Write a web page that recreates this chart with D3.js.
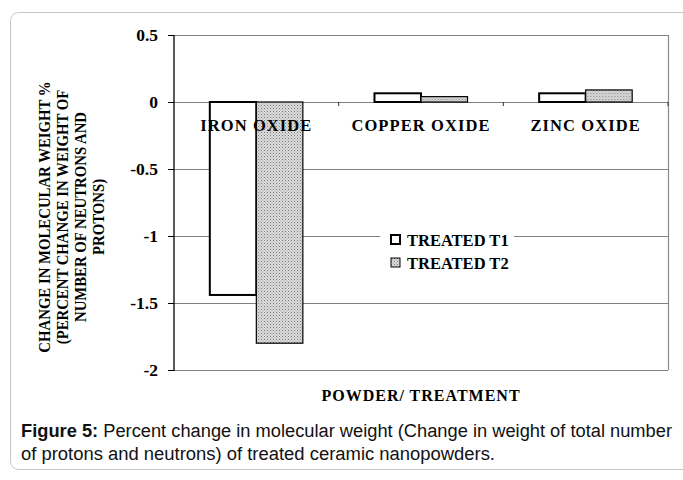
<!DOCTYPE html>
<html>
<head>
  <meta charset="utf-8">
  <script src="https://d3js.org/d3.v7.min.js"></script>
  <style>
    body { margin: 0; background: #fff; }
    .serif { font-family: "Liberation Serif", "Times New Roman", serif; font-weight: bold; fill: #000; }
    .axis path { display: none; }
    .axis line { stroke: #000; }
  </style>
</head>
<body>
<script>
  // data
  var categories = ["IRON OXIDE", "COPPER OXIDE", "ZINC OXIDE"];
  var seriesNames = ["TREATED T1", "TREATED T2"];
  var t1Values = [-1.44, 0.065, 0.065];
  var t2Values = [-1.80, 0.04, 0.09];
  var yTicks = [0.5, 0, -0.5, -1, -1.5, -2];
  var yTitleLines = ["CHANGE IN MOLECULAR WEIGHT %", "(PERCENT CHANGE IN WEIGHT OF",
                     "NUMBER OF NEUTRONS AND", "PROTONS)"];

  var W = 683, H = 480;
  var plot = {left: 174, right: 668, top: 35, bottom: 370};

  var svg = d3.select("body").append("svg")
    .attr("width", W).attr("height", H);

  // stipple pattern for T2
  var defs = svg.append("defs");
  var pat = defs.append("pattern")
    .attr("id", "dots").attr("patternUnits", "userSpaceOnUse")
    .attr("width", 3).attr("height", 3);
  pat.append("rect").attr("width", 3).attr("height", 3).attr("fill", "#dcdcdc");
  pat.append("rect").attr("width", 1).attr("height", 1).attr("fill", "#7a7a7a");
  pat.append("rect").attr("x", 1.5).attr("y", 1.5).attr("width", 1).attr("height", 1).attr("fill", "#9a9a9a");

  // outer frame
  svg.append("rect")
    .attr("x", 10.5).attr("y", 12.5).attr("width", 700).attr("height", 457)
    .attr("rx", 8).attr("fill", "none").attr("stroke", "#c6c6c6");

  var y = d3.scaleLinear().domain([-2, 0.5]).range([plot.bottom, plot.top]);
  var x0 = d3.scaleBand().domain(categories).range([plot.left, plot.right]);
  var x1 = d3.scaleBand().domain(seriesNames).range([0, x0.bandwidth()])
    .paddingOuter(0.77);

  // gridlines
  svg.append("g").selectAll("line")
    .data(yTicks)
    .join("line")
    .attr("x1", plot.left).attr("x2", plot.right)
    .attr("y1", function(d) { return Math.round(y(d)) + 0.5; })
    .attr("y2", function(d) { return Math.round(y(d)) + 0.5; })
    .attr("stroke", "#808080").attr("stroke-width", 1.2);

  // right border
  svg.append("line")
    .attr("x1", plot.right + 0.5).attr("x2", plot.right + 0.5)
    .attr("y1", plot.top).attr("y2", plot.bottom)
    .attr("stroke", "#8a8a8a").attr("stroke-width", 1.2);

  // category ticks on the zero line
  svg.append("g").selectAll("line")
    .data(categories.slice(1).concat(["end"]))
    .join("line")
    .attr("x1", function(d, i) { return plot.left + x0.step() * (i + 1); })
    .attr("x2", function(d, i) { return plot.left + x0.step() * (i + 1); })
    .attr("y1", y(0)).attr("y2", y(0) + 4)
    .attr("stroke", "#333");

  // bars
  var rows = categories.map(function(c, i) {
    return {cat: c, vals: [t1Values[i], t2Values[i]]};
  });
  var groups = svg.append("g").selectAll("g")
    .data(rows)
    .join("g")
    .attr("transform", function(d) { return "translate(" + x0(d.cat) + ",0)"; });

  groups.selectAll("rect")
    .data(function(d) {
      return d.vals.map(function(v, j) { return {s: seriesNames[j], v: v, j: j}; });
    })
    .join("rect")
    .attr("x", function(d) { return x1(d.s); })
    .attr("width", x1.bandwidth())
    .attr("y", function(d) { return y(Math.max(0, d.v)); })
    .attr("height", function(d) { return Math.abs(y(d.v) - y(0)); })
    .attr("fill", function(d) { return d.j === 0 ? "#fff" : "url(#dots)"; })
    .attr("stroke", "#000")
    .attr("stroke-width", function(d) { return d.j === 0 ? 2 : 1.2; });

  // left axis
  var yAxis = d3.axisLeft(y).tickValues(yTicks).tickSize(6).tickPadding(10)
    .tickFormat(function(d) { return d === 0 ? "0" : String(d); });
  var ga = svg.append("g").attr("class", "axis")
    .attr("transform", "translate(" + plot.left + ",0)")
    .call(yAxis);
  ga.selectAll("text").attr("class", "serif").style("font-size", "17.5px");
  svg.append("line")
    .attr("x1", plot.left).attr("x2", plot.left)
    .attr("y1", plot.top).attr("y2", plot.bottom + 1)
    .attr("stroke", "#000").attr("stroke-width", 1.3);

  // category labels
  svg.append("g").selectAll("text")
    .data(categories)
    .join("text")
    .attr("class", "serif")
    .attr("x", function(d) { return x0(d) + x0.bandwidth() / 2; })
    .attr("y", 131)
    .attr("text-anchor", "middle")
    .style("font-size", "16.5px")
    .style("letter-spacing", "1.1px")
    .text(function(d) { return d; });

  // x title
  svg.append("text").attr("class", "serif")
    .attr("x", 421).attr("y", 401)
    .attr("text-anchor", "middle")
    .style("font-size", "16px")
    .style("letter-spacing", "1px")
    .text("POWDER/ TREATMENT");

  // y title (glyphs look narrow along the line in the source)
  var yt = svg.append("g").attr("transform", "translate(0,217) rotate(-90) scale(0.87,1)");
  yt.selectAll("text")
    .data(yTitleLines)
    .join("text")
    .attr("class", "serif")
    .attr("x", 0)
    .attr("y", function(d, i) { return 50 + i * 18; })
    .attr("text-anchor", "middle")
    .style("font-size", "17px")
    .text(function(d) { return d; });

  // legend
  var lg = svg.append("g").attr("transform", "translate(380,226)");
  lg.append("rect").attr("width", 134).attr("height", 50).attr("fill", "#fff");
  var items = lg.selectAll("g.item")
    .data(seriesNames)
    .join("g")
    .attr("transform", function(d, i) { return "translate(11," + (9 + i * 23) + ")"; });
  items.append("rect")
    .attr("width", 9).attr("height", 9)
    .attr("fill", function(d, i) { return i === 0 ? "#fff" : "url(#dots)"; })
    .attr("stroke", "#000")
    .attr("stroke-width", function(d, i) { return i === 0 ? 2 : 1; });
  items.append("text").attr("class", "serif")
    .attr("x", 16).attr("y", 11)
    .style("font-size", "16.5px")
    .text(function(d) { return d; });

  // caption
  var cap = svg.append("text")
    .attr("x", 21).attr("y", 437)
    .attr("textLength", 651).attr("lengthAdjust", "spacingAndGlyphs")
    .style("font-family", "'Liberation Sans', Arial, sans-serif")
    .style("font-size", "18px")
    .attr("fill", "#111");
  cap.append("tspan").style("font-weight", "bold").text("Figure 5:");
  cap.append("tspan").text(" Percent change in molecular weight (Change in weight of total number");
  svg.append("text")
    .attr("x", 21).attr("y", 460)
    .attr("textLength", 474).attr("lengthAdjust", "spacingAndGlyphs")
    .style("font-family", "'Liberation Sans', Arial, sans-serif")
    .style("font-size", "18px")
    .attr("fill", "#111")
    .text("of protons and neutrons) of treated ceramic nanopowders.");
</script>
</body>
</html>
